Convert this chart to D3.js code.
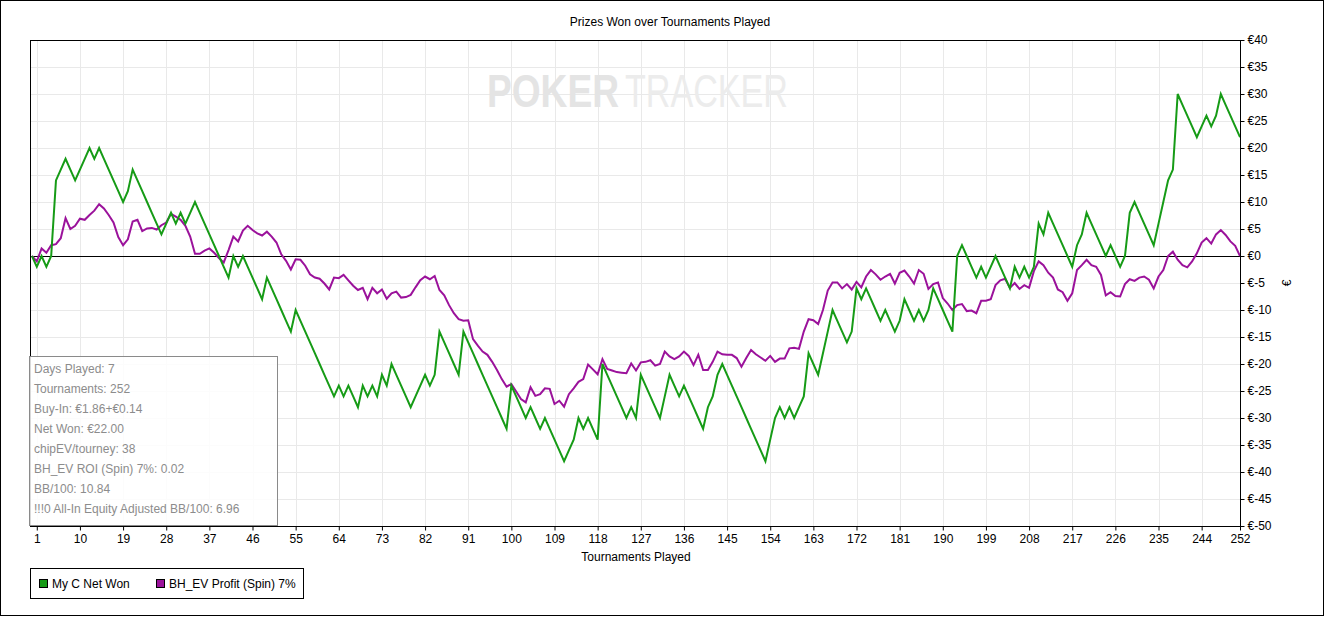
<!DOCTYPE html>
<html>
<head>
<meta charset="utf-8">
<script src="https://cdn.jsdelivr.net/npm/d3@7"></script>
<style>
  body { margin: 0; background: #fff; }
  text { font-family: "Liberation Sans", Arial, sans-serif; }
</style>
</head>
<body>
<div id="chart"></div>
<script>
const width = 1325;
const height = 617;

// cumulative € per tournament, index = tournament number (0 = start)
const netWon = [
  0, -2, 0, -2, 0, 14, 16, 18, 16, 14,
  16, 18, 20, 18, 20, 18, 16, 14, 12, 10,
  12, 16, 14, 12, 10, 8, 6, 4, 6, 8,
  6, 8, 6, 8, 10, 8, 6, 4, 2, 0,
  -2, -4, 0, -2, 0, -2, -4, -6, -8, -4,
  -6, -8, -10, -12, -14, -10, -12, -14, -16, -18,
  -20, -22, -24, -26, -24, -26, -24, -26, -28, -24,
  -26, -24, -26, -22, -24, -20, -22, -24, -26, -28,
  -26, -24, -22, -24, -22, -14, -16, -18, -20, -22,
  -14, -16, -18, -20, -22, -24, -26, -28, -30, -32,
  -24, -26, -28, -30, -28, -30, -32, -30, -32, -34,
  -36, -38, -36, -34, -30, -32, -30, -32, -34, -20,
  -22, -24, -26, -28, -30, -28, -30, -22, -24, -26,
  -28, -30, -26, -22, -24, -26, -24, -26, -28, -30,
  -32, -28, -26, -22, -20, -22, -24, -26, -28, -30,
  -32, -34, -36, -38, -34, -30, -28, -30, -28, -30,
  -28, -26, -18, -20, -22, -18, -14, -10, -12, -14,
  -16, -14, -6, -8, -6, -8, -10, -12, -10, -12,
  -14, -12, -8, -10, -12, -10, -12, -10, -6, -8,
  -10, -12, -14, 0, 2, 0, -2, -4, -2, -4,
  -2, 0, -2, -4, -6, -2, -4, -2, -4, -2,
  6, 4, 8, 6, 4, 2, 0, -2, 2, 4,
  8, 6, 4, 2, 0, 2, 0, -2, 0, 8,
  10, 8, 6, 4, 2, 6, 10, 14, 16, 30,
  28, 26, 24, 22, 24, 26, 24, 26, 30, 28,
  26, 24, 22
];

const bhEvProfit = [
  0, -1.0, 1.4, 0.6, 2.0, 2.2, 3.3, 7.0, 5.0, 5.6,
  6.9, 6.7, 7.6, 8.4, 9.6, 8.8, 7.6, 6.2, 3.5, 2.0,
  3.1, 6.4, 6.7, 4.6, 5.1, 5.2, 4.9, 5.7, 6.2, 7.8,
  7.3, 6.7, 5.6, 3.6, 0.4, 0.4, 1.0, 1.4, 0.6, -0.4,
  -1.2, 1.1, 3.6, 2.7, 4.7, 5.6, 4.8, 4.2, 3.8, 4.5,
  3.6, 2.5, 0.3, -0.9, -2.5, -0.6, -0.7, -1.8, -3.4, -4.0,
  -4.2, -5.1, -6.2, -4.0, -4.1, -3.5, -4.5, -5.5, -6.3, -5.9,
  -8.0, -5.9, -6.9, -6.2, -7.9, -6.9, -6.6, -7.7, -7.6, -7.2,
  -5.8, -4.5, -3.8, -4.3, -3.7, -6.3, -7.3, -9.1, -10.6, -11.7,
  -12.0, -11.9, -15.4, -16.6, -17.7, -18.3, -19.6, -21.1, -22.8, -24.2,
  -23.7, -25.1, -26.5, -27.1, -24.3, -25.9, -25.6, -24.5, -24.6, -27.4,
  -26.8, -27.9, -25.6, -24.5, -23.3, -22.8, -20.1, -21.0, -21.9, -19.1,
  -20.9, -21.2, -21.5, -21.6, -21.7, -19.9, -21.2, -19.7, -19.6, -19.3,
  -20.3, -20.0, -17.7, -18.6, -19.1, -18.6, -17.7, -18.5, -20.2, -18.3,
  -21.1, -21.1, -19.6, -17.7, -18.2, -18.3, -18.3, -18.9, -20.5, -18.9,
  -17.4, -18.2, -18.8, -19.4, -18.5, -19.6, -19.0, -19.0, -17.1, -17.0,
  -17.2, -14.0, -11.7, -11.9, -12.6, -10.0, -6.4, -4.9, -4.9, -6.0,
  -5.2, -6.2, -4.8, -5.8, -3.8, -2.6, -3.4, -4.4, -3.8, -3.3,
  -5.1, -3.1, -2.7, -3.8, -5.1, -2.6, -3.3, -6.1, -5.2, -4.9,
  -7.8, -8.8, -10.0, -9.1, -8.9, -10.2, -10.1, -10.6, -8.3, -8.3,
  -8.0, -5.4, -4.5, -4.2, -5.9, -5.0, -6.1, -5.4, -5.9, -2.8,
  -1.0, -1.7, -3.1, -4.0, -6.2, -6.7, -8.3, -6.9, -2.6, -1.7,
  -0.7, -1.7, -2.0, -3.5, -7.3, -6.7, -7.4, -7.5, -5.2, -4.3,
  -4.6, -4.0, -3.8, -4.4, -6.0, -3.8, -2.6, 0.0, 0.8, -0.7,
  -1.7, -2.1, -1.0, 0.5, 2.5, 3.3, 2.3, 4.0, 4.8, 3.9,
  2.7, 1.9, 0
];

const xTicks = [1, 10, 19, 28, 37, 46, 55, 64, 73, 82, 91, 100, 109, 118, 127,
  136, 145, 154, 163, 172, 181, 190, 199, 208, 217, 226, 235, 244, 252];
const yTicks = [-50, -45, -40, -35, -30, -25, -20, -15, -10, -5, 0, 5, 10, 15, 20, 25, 30, 35, 40];

const seriesNames = ["My C Net Won", "BH_EV Profit (Spin) 7%"];
const seriesColors = ["#169b16", "#9b129b"];

const statLines = [
  "Days Played: 7",
  "Tournaments: 252",
  "Buy-In: €1.86+€0.14",
  "Net Won: €22.00",
  "chipEV/tourney: 38",
  "BH_EV ROI (Spin) 7%: 0.02",
  "BB/100: 10.84",
  "!!!0 All-In Equity Adjusted BB/100: 6.96"
];

const plot = { left: 30, right: 1240, top: 40, bottom: 526 };

const svg = d3.select("#chart")
    .append("svg")
    .attr("width", width)
    .attr("height", height);

svg.append("rect")
    .attr("x", 0.5).attr("y", 0.5)
    .attr("width", 1323).attr("height", 615)
    .attr("fill", "#fff")
    .attr("stroke", "#000");

const x = d3.scaleLinear().domain([0, 252]).range([32, plot.right]);
const y = d3.scaleLinear().domain([-50, 40]).range([plot.bottom, plot.top]);

// grid
const grid = svg.append("g");
grid.selectAll("line.v")
    .data(xTicks)
    .enter().append("line")
    .attr("x1", d => Math.round(x(d)) + 0.5).attr("x2", d => Math.round(x(d)) + 0.5)
    .attr("y1", plot.top).attr("y2", plot.bottom)
    .attr("stroke", "#e9e9e9");
grid.selectAll("line.h")
    .data(yTicks)
    .enter().append("line")
    .attr("x1", plot.left).attr("x2", plot.right)
    .attr("y1", d => Math.round(y(d)) + 0.5).attr("y2", d => Math.round(y(d)) + 0.5)
    .attr("stroke", "#e9e9e9");

// watermark, squeezed horizontally to fit its slot
function watermark(str, left, slot, weight, fill) {
    const t = svg.append("text")
        .attr("font-size", 47).attr("font-weight", weight)
        .attr("fill", fill)
        .text(str);
    const natural = t.node().getComputedTextLength();
    t.attr("transform", `translate(${left},107) scale(${slot / natural},1)`);
}
watermark("POKER", 487, 132, "bold", "#e4e4e4");
watermark("TRACKER", 625, 163, "normal", "#ececec");

// zero line
svg.append("line")
    .attr("x1", plot.left).attr("x2", plot.right)
    .attr("y1", Math.round(y(0)) + 0.5).attr("y2", Math.round(y(0)) + 0.5)
    .attr("stroke", "#000");

svg.append("clipPath").attr("id", "clip")
  .append("rect")
    .attr("x", plot.left).attr("y", plot.top)
    .attr("width", plot.right - plot.left).attr("height", plot.bottom - plot.top);

const line = d3.line()
    .x((d, i) => x(i))
    .y(d => y(d));

const lines = svg.append("g").attr("clip-path", "url(#clip)");
[bhEvProfit, netWon].forEach((series, k) => {
    lines.append("path")
        .datum(series)
        .attr("fill", "none")
        .attr("stroke", k === 0 ? seriesColors[1] : seriesColors[0])
        .attr("stroke-width", 2)
        .attr("d", line);
});

// plot frame
svg.append("rect")
    .attr("x", plot.left + 0.5).attr("y", plot.top + 0.5)
    .attr("width", plot.right - plot.left).attr("height", plot.bottom - plot.top)
    .attr("fill", "none")
    .attr("stroke", "#000");

// x axis
const xAxis = d3.axisBottom(x)
    .tickValues(xTicks)
    .tickSize(4)
    .tickFormat(d3.format("d"));
svg.append("g")
    .attr("transform", `translate(0,${plot.bottom + 0.5})`)
    .call(xAxis)
    .call(g => g.select(".domain").remove())
    .call(g => g.selectAll("text").attr("font-size", 12).attr("fill", "#000")
        .attr("font-family", "'Liberation Sans', Arial, sans-serif").attr("dy", "0.85em").attr("y", 6));

// y axis on the right
const yAxis = d3.axisRight(y)
    .tickValues(yTicks)
    .tickSize(4)
    .tickFormat(d => "€" + d);
svg.append("g")
    .attr("transform", `translate(${plot.right + 0.5},0)`)
    .call(yAxis)
    .call(g => g.select(".domain").remove())
    .call(g => g.selectAll("text").attr("font-size", 12).attr("fill", "#000")
        .attr("font-family", "'Liberation Sans', Arial, sans-serif").attr("x", 7));

// titles
svg.append("text")
    .attr("x", 670).attr("y", 26)
    .attr("text-anchor", "middle")
    .attr("font-size", 12)
    .text("Prizes Won over Tournaments Played");

svg.append("text")
    .attr("x", 636).attr("y", 561)
    .attr("text-anchor", "middle")
    .attr("font-size", 12)
    .text("Tournaments Played");

svg.append("text")
    .attr("transform", "translate(1291,283) rotate(-90)")
    .attr("text-anchor", "middle")
    .attr("font-size", 12)
    .text("€");

// stats box
const box = svg.append("g");
box.append("rect")
    .attr("x", 29.5).attr("y", 356.5)
    .attr("width", 248).attr("height", 169)
    .attr("fill", "#fff").attr("fill-opacity", 0.85)
    .attr("stroke", "#8a8a8a");
box.selectAll("text")
    .data(statLines)
    .enter().append("text")
    .attr("x", 34)
    .attr("y", (d, i) => 373 + i * 20)
    .attr("font-size", 12)
    .attr("fill", "#8c8c8c")
    .text(d => d);

// legend
const legend = svg.append("g");
legend.append("rect")
    .attr("x", 30.5).attr("y", 568.5)
    .attr("width", 273).attr("height", 30)
    .attr("fill", "#fff")
    .attr("stroke", "#000");
const legendX = [39, 156];
seriesNames.forEach((name, i) => {
    legend.append("rect")
        .attr("x", legendX[i] + 0.5).attr("y", 579.5)
        .attr("width", 8).attr("height", 8)
        .attr("fill", seriesColors[i])
        .attr("stroke", "#000");
    legend.append("text")
        .attr("x", legendX[i] + 13).attr("y", 588)
        .attr("font-size", 12)
        .text(name);
});
</script>
</body>
</html>
